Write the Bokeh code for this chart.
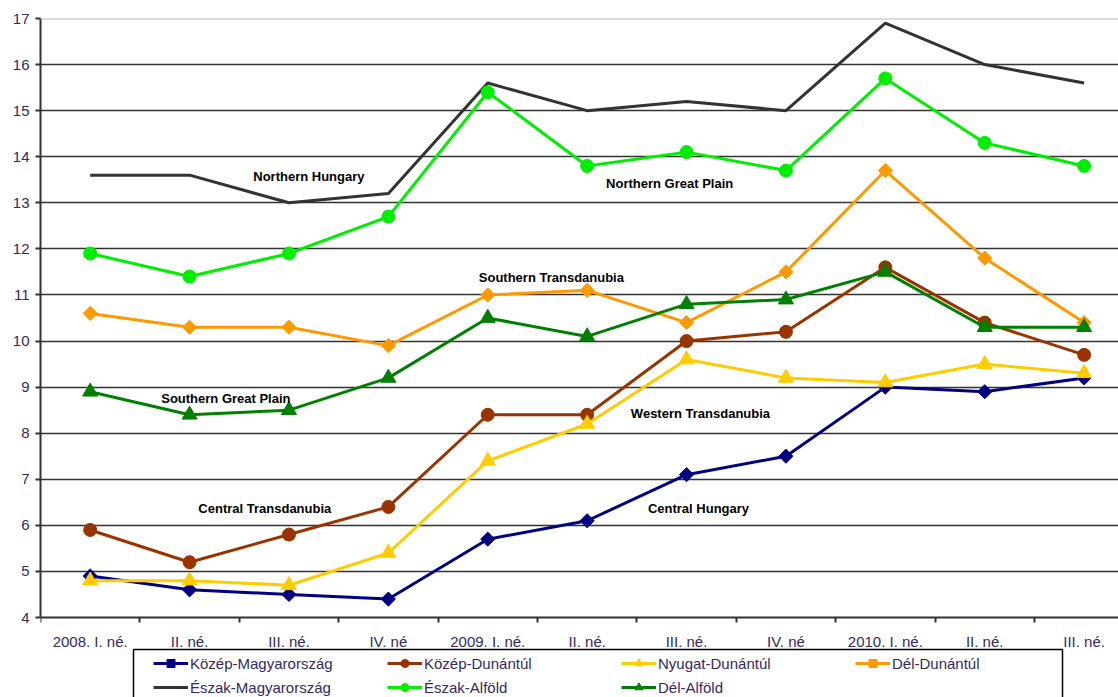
import numpy as np
from bokeh.plotting import figure
from bokeh.models import Range1d, FixedTicker, Span, Legend, LegendItem, BoxAnnotation, ColumnDataSource
from bokeh.core.properties import value
from bokeh.embed import file_html
from bokeh.resources import INLINE

categories = ["2008. I. né.", "II. né.", "III. né.", "IV. né", "2009. I. né.", "II. né.",
              "III. né.", "IV. né", "2010. I. né.", "II. né.", "III. né."]

kozep_magyarorszag = [4.9, 4.6, 4.5, 4.4, 5.7, 6.1, 7.1, 7.5, 9.0, 8.9, 9.2]
kozep_dunantul = [5.9, 5.2, 5.8, 6.4, 8.4, 8.4, 10.0, 10.2, 11.6, 10.4, 9.7]
nyugat_dunantul = [4.8, 4.8, 4.7, 5.4, 7.4, 8.2, 9.6, 9.2, 9.1, 9.5, 9.3]
del_dunantul = [10.6, 10.3, 10.3, 9.9, 11.0, 11.1, 10.4, 11.5, 13.7, 11.8, 10.4]
eszak_magyarorszag = [13.6, 13.6, 13.0, 13.2, 15.6, 15.0, 15.2, 15.0, 16.9, 16.0, 15.6]
eszak_alfold = [11.9, 11.4, 11.9, 12.7, 15.4, 13.8, 14.1, 13.7, 15.7, 14.3, 13.8]
del_alfold = [8.9, 8.4, 8.5, 9.2, 10.5, 10.1, 10.8, 10.9, 11.5, 10.3, 10.3]

series_names = ["Közép-Magyarország", "Közép-Dunántúl", "Nyugat-Dunántúl", "Dél-Dunántúl",
                "Észak-Magyarország", "Észak-Alföld", "Dél-Alföld"]

annot_texts = ["Northern Hungary", "Northern Great Plain", "Southern Transdanubia",
               "Southern Great Plain", "Central Transdanubia", "Western Transdanubia",
               "Central Hungary"]
annot_x = [2.2, 5.83, 4.64, 1.365, 1.757, 6.14, 6.12]
annot_y = [13.57, 13.42, 11.38, 8.75, 6.37, 8.43, 6.37]

y_ticks = list(range(4, 18))
y_min, y_max = 4, 17

FONT = "Liberation Sans"
LABEL_COLOR = "#33295e"

x = list(range(len(categories)))

# frame spans down to the bottom of the page; the value axis runs from 4 to 17
# and the x axis is pinned at y=4, leaving room for labels and legend below it
frame_px = 697 - 18
axis_px = 617 - 18
y_start = y_max - (y_max - y_min) * frame_px / axis_px

p = figure(width=1118, height=697, output_backend="svg", toolbar_location=None,
           x_range=Range1d(-0.5, 10.346), y_range=Range1d(y_start, y_max),
           min_border_left=40, min_border_right=0, min_border_top=18, min_border_bottom=0)
p.outline_line_color = None
p.background_fill_color = "white"
p.border_fill_color = "white"

# x axis
p.xaxis.fixed_location = y_min
p.xaxis.ticker = FixedTicker(ticks=x, minor_ticks=[i - 0.5 for i in x])
p.xaxis.major_label_overrides = {i: c for i, c in enumerate(categories)}
p.xaxis.major_tick_line_color = None
p.xaxis.major_tick_out = 0
p.xaxis.major_tick_in = 0
p.xaxis.minor_tick_line_color = "#333333"
p.xaxis.minor_tick_line_width = 2
p.xaxis.minor_tick_out = 5
p.xaxis.minor_tick_in = 0
p.xaxis.major_label_standoff = 10
p.xaxis.axis_line_color = "#333333"
p.xaxis.axis_line_width = 2
p.xaxis.major_label_text_font = FONT
p.xaxis.major_label_text_font_size = "15px"
p.xaxis.major_label_text_color = LABEL_COLOR

# y axis
p.yaxis.bounds = (y_min, y_max)
p.yaxis.ticker = FixedTicker(ticks=y_ticks)
p.yaxis.major_tick_out = 5
p.yaxis.major_tick_in = 0
p.yaxis.major_tick_line_color = "#333333"
p.yaxis.major_tick_line_width = 2
p.yaxis.minor_tick_line_color = None
p.yaxis.major_label_standoff = 6
p.yaxis.axis_line_color = "#333333"
p.yaxis.axis_line_width = 2
p.yaxis.major_label_text_font = FONT
p.yaxis.major_label_text_font_size = "15px"
p.yaxis.major_label_text_color = LABEL_COLOR

# grid
p.xgrid.visible = False
p.ygrid.ticker = FixedTicker(ticks=list(range(5, 17)))
p.ygrid.grid_line_color = "#333333"
p.ygrid.grid_line_width = 1.5
p.add_layout(Span(location=y_max, dimension="width", line_color="#b8b8b8", line_width=2))

styles = [
    (kozep_magyarorszag, "#000080", "square", 10, np.pi / 4),
    (kozep_dunantul, "#993300", "circle", 13, 0),
    (nyugat_dunantul, "#FFCC00", "triangle", 15, 0),
    (del_dunantul, "#FF9900", "square", 10, np.pi / 4),
    (eszak_magyarorszag, "#333333", None, 0, 0),
    (eszak_alfold, "#00EE00", "circle", 13, 0),
    (del_alfold, "#008000", "triangle", 15, 0),
]

items = []
for name, (vals, col, marker, size, ang) in zip(series_names, styles):
    rs = [p.line(x, vals, line_color=col, line_width=3)]
    if marker:
        rs.append(p.scatter(x, vals, marker=marker, size=size, angle=ang,
                            fill_color=col, line_color=col))
    items.append(LegendItem(label=name, renderers=rs))

# annotations
src = ColumnDataSource(dict(x=annot_x, y=annot_y, t=annot_texts))
p.text(x="x", y="y", text="t", source=src, text_font=value(FONT), text_font_style="bold",
       text_font_size="13px", text_align="center", text_baseline="middle", text_color="black")

legend = Legend(items=items, orientation="horizontal", ncols=4, location=(113, 0),
                padding=4, spacing=4, glyph_width=35, glyph_height=20, label_height=20,
                label_width=193, label_standoff=2, margin=0,
                label_text_font=FONT, label_text_font_size="15px", label_text_color=LABEL_COLOR,
                border_line_color=None, background_fill_alpha=0)
p.add_layout(legend, "center")

box = BoxAnnotation(left=133, right=1062, top=649, bottom=720,
                    left_units="canvas", right_units="canvas", top_units="canvas", bottom_units="canvas",
                    fill_color=None, fill_alpha=0, line_color="black", line_width=1.5, line_alpha=1)
p.add_layout(box)

open("out.html", "w").write(file_html(p, INLINE))
